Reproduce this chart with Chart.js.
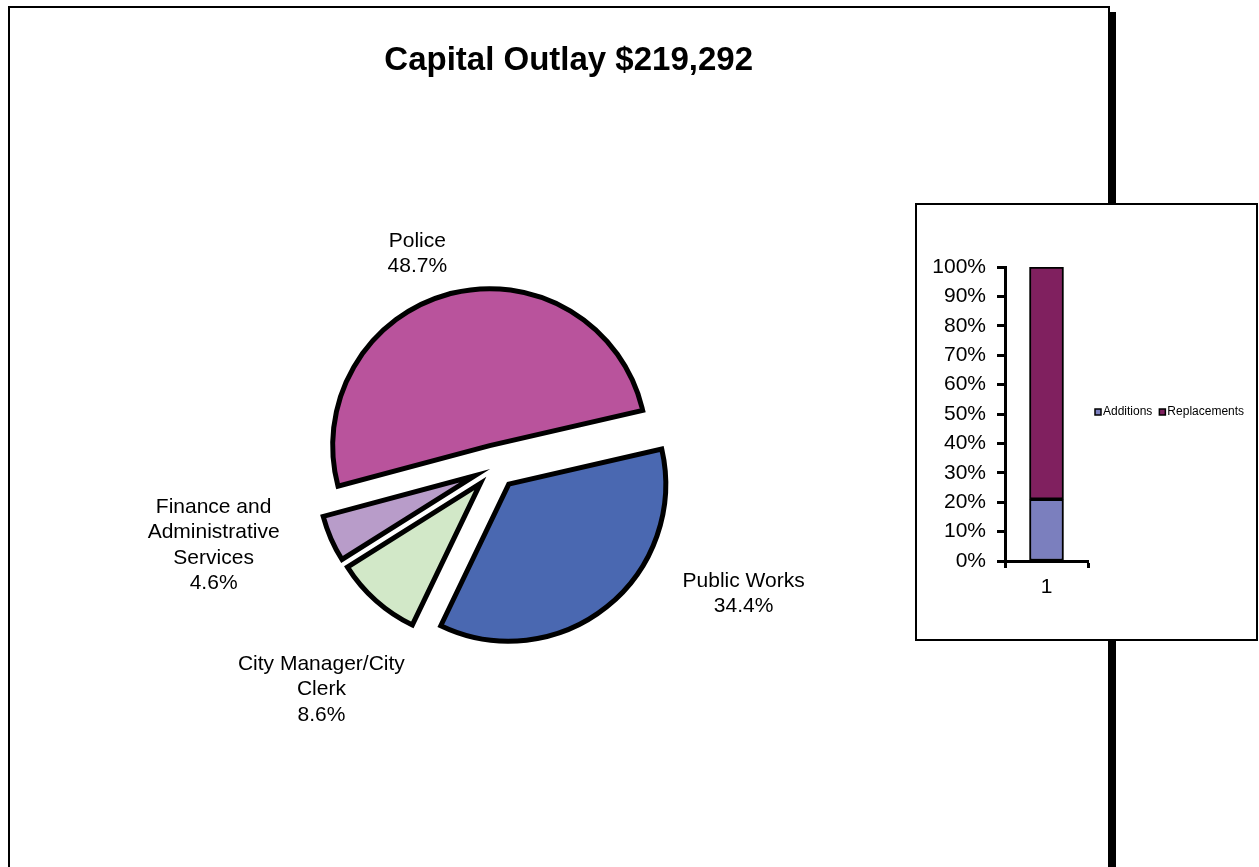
<!DOCTYPE html>
<html>
<head>
<meta charset="utf-8">
<title>Capital Outlay</title>
<script src="https://cdn.jsdelivr.net/npm/chart.js@4.4.1/dist/chart.umd.min.js"></script>
<style>
  html, body { margin: 0; padding: 0; background: #fff; overflow: hidden; }
  body { width: 1259px; height: 867px; position: relative; }
  #frame {
    position: absolute; left: 8px; top: 6px;
    width: 1098px; height: 900px;
    border: 2px solid #000;
    box-shadow: 6px 6px 0 #000;
    background: #fff;
  }
  #pieChart { position: absolute; left: 0; top: 0; }
  #inset {
    position: absolute; left: 915px; top: 203px;
    width: 339px; height: 434px;
    border: 2px solid #000;
    background: #fff;
    z-index: 2;
  }
  #barChart { position: absolute; left: 0; top: 0; }
</style>
</head>
<body>
<div id="frame">
  <canvas id="pieChart" width="1098" height="859"></canvas>
</div>
<div id="inset">
  <canvas id="barChart" width="339" height="434"></canvas>
</div>
<script>
// department shares of capital outlay (percent)
const departments = [
  ['Police'],
  ['Public Works'],
  ['City Manager/City', 'Clerk'],
  ['Finance and', 'Administrative', 'Services']
];
const shares = [48.7, 34.4, 8.6, 4.6];
const sliceColors = ['#b9539c', '#4a68b1', '#d2e8c8', '#b89cc9'];

// additions vs replacements split
const barCategories = ['1'];
const additions = [21];
const replacements = [79];

const FONT = '"Liberation Sans", Arial, sans-serif';
const EXPLODE = 22;

// pull every slice out from the centre along its mid angle
const explodeSlices = {
  id: 'explodeSlices',
  afterDatasetUpdate(chart, args) {
    args.meta.data.forEach(arc => {
      if (arc._pulled) return;
      const baseDraw = arc.draw;
      arc.draw = function (ctx, area) {
        const mid = (this.startAngle + this.endAngle) / 2;
        ctx.save();
        ctx.translate(Math.cos(mid) * EXPLODE, Math.sin(mid) * EXPLODE);
        baseDraw.call(this, ctx, area);
        ctx.restore();
      };
      arc._pulled = true;
    });
  }
};

// name + percentage around the pie
const sliceLabels = {
  id: 'sliceLabels',
  afterDatasetsDraw(chart, args, opts) {
    const ctx = chart.ctx;
    const first = chart.getDatasetMeta(0).data[0];
    const values = chart.data.datasets[0].data;
    ctx.save();
    ctx.font = opts.size + 'px ' + FONT;
    ctx.fillStyle = '#000';
    ctx.textAlign = 'center';
    ctx.textBaseline = 'middle';
    chart.data.labels.forEach((lines, i) => {
      const text = lines.concat(values[i].toFixed(1) + '%');
      const [deg, dist] = opts.spots[i];
      const a = deg * Math.PI / 180;
      const x = first.x + Math.sin(a) * dist;
      const y = first.y - Math.cos(a) * dist;
      const top = y - (text.length - 1) * opts.lineHeight / 2;
      text.forEach((t, k) => ctx.fillText(t, x, top + k * opts.lineHeight));
    });
    ctx.restore();
  }
};

new Chart(document.getElementById('pieChart'), {
  type: 'pie',
  data: {
    labels: departments,
    datasets: [{
      data: shares,
      backgroundColor: sliceColors,
      borderColor: '#000',
      borderWidth: 5,
      borderJoinStyle: 'miter'
    }]
  },
  options: {
    responsive: false,
    animation: false,
    rotation: -105,
    radius: 157,
    layout: { padding: { left: 227, right: 355, top: 0, bottom: 13.6 } },
    plugins: {
      legend: { display: false },
      tooltip: { enabled: false },
      title: {
        display: true,
        text: 'Capital Outlay $219,292',
        align: 'end',
        color: '#000',
        font: { family: FONT, size: 33, weight: 'bold' },
        padding: { top: 33, bottom: 0 }
      },
      sliceLabels: {
        size: 21,
        lineHeight: 25.5,
        spots: [[-20, 227], [117, 279], [218, 282], [254.5, 292]]
      }
    }
  },
  plugins: [explodeSlices, sliceLabels]
});

// single-row legend to the right of the plot
const rowLegend = {
  id: 'rowLegend',
  afterDraw(chart, args, opts) {
    const { ctx, chartArea } = chart;
    let x = chartArea.right + opts.gap;
    const y = (chartArea.top + chartArea.bottom) / 2 - 2;
    ctx.save();
    ctx.font = opts.size + 'px ' + FONT;
    ctx.textBaseline = 'middle';
    ctx.textAlign = 'left';
    chart.data.datasets.forEach(ds => {
      ctx.fillStyle = ds.backgroundColor;
      ctx.fillRect(x, y - 3, 6, 6);
      ctx.strokeStyle = '#000';
      ctx.lineWidth = 1.5;
      ctx.strokeRect(x, y - 3, 6, 6);
      x += 8;
      ctx.fillStyle = '#000';
      ctx.fillText(ds.label, x, y);
      x += ctx.measureText(ds.label).width + 7;
    });
    ctx.restore();
  }
};

const axisFont = { family: FONT, size: 21 };

new Chart(document.getElementById('barChart'), {
  type: 'bar',
  data: {
    labels: barCategories,
    datasets: [
      { label: 'Additions', data: additions, backgroundColor: '#7b7fbe' },
      { label: 'Replacements', data: replacements, backgroundColor: '#80205f' }
    ]
  },
  options: {
    responsive: false,
    animation: false,
    layout: { padding: { left: 0, right: 168, top: 62, bottom: 38 } },
    datasets: {
      bar: { borderColor: '#000', borderWidth: 2, borderSkipped: false, barThickness: 34 }
    },
    scales: {
      x: {
        stacked: true,
        grid: { drawOnChartArea: false, tickLength: 7, tickWidth: 3, tickColor: '#000' },
        border: { display: true, color: '#000', width: 3 },
        ticks: { color: '#000', font: axisFont, padding: 7 },
        afterFit(scale) { scale.height = 40; }
      },
      y: {
        stacked: true,
        min: 0,
        max: 100,
        ticks: { stepSize: 10, color: '#000', font: axisFont, padding: 11, callback: v => v + '%' },
        grid: { drawOnChartArea: false, tickLength: 8, tickWidth: 3, tickColor: '#000' },
        border: { display: true, color: '#000', width: 3 },
        afterFit(scale) { scale.width = 88; }
      }
    },
    plugins: {
      legend: { display: false },
      tooltip: { enabled: false },
      rowLegend: { gap: 7, size: 12 }
    }
  },
  plugins: [rowLegend]
});
</script>
</body>
</html>
